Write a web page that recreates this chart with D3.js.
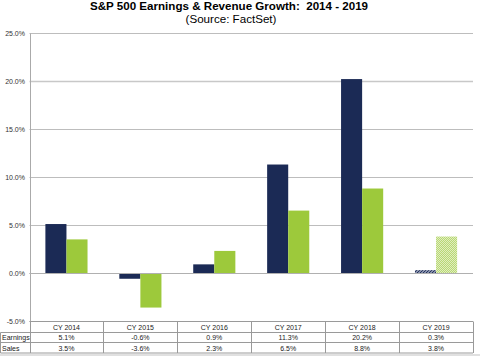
<!DOCTYPE html>
<html><head><meta charset="utf-8">
<script src="https://cdn.jsdelivr.net/npm/d3@7"></script>
<style>body{margin:0;background:#fff}svg{display:block}text{font-family:Arial,"Liberation Sans",sans-serif}</style>
</head><body>
<script>
const categories = ["CY 2014","CY 2015","CY 2016","CY 2017","CY 2018","CY 2019"];
const series = ["Earnings","Sales"];
const earnings = [5.1,-0.6,0.9,11.3,20.2,0.3];
const sales = [3.5,-3.6,2.3,6.5,8.8,3.8];
const yTicks = [-5,0,5,10,15,20,25];
const W=480,H=356;
const svg=d3.select("body").append("svg").attr("width",W).attr("height",H);
const defs=svg.append("defs");
const p1=defs.append("pattern").attr("id","hatchE").attr("patternUnits","userSpaceOnUse").attr("width",3).attr("height",3);
p1.append("rect").attr("width",3).attr("height",3).attr("fill","#8a93ad");
p1.append("path").attr("d","M0,3L3,0").attr("stroke","#1b2a55").attr("stroke-width",1);
const p2=defs.append("pattern").attr("id","hatchS").attr("patternUnits","userSpaceOnUse").attr("width",2).attr("height",2);
p2.append("rect").attr("width",2).attr("height",2).attr("fill","#e4f0c6");
p2.append("rect").attr("width",1).attr("height",1).attr("fill","#b5d66e");
p2.append("rect").attr("x",1).attr("y",1).attr("width",1).attr("height",1).attr("fill","#b5d66e");

const x=d3.scaleBand().domain(categories).range([29.5,473]).padding(0);
const x1=d3.scaleBand().domain(series).range([x.bandwidth()*0.215,x.bandwidth()*0.785]).padding(0);
const y=d3.scaleLinear().domain([-5,25]).range([321,33]);

// gridlines
svg.append("g").selectAll("line").data(yTicks).join("line")
  .attr("x1",29.5).attr("x2",473).attr("y1",d=>Math.round(y(d))+0.5).attr("y2",d=>Math.round(y(d))+0.5)
  .attr("stroke",d=>d===20?"#c8c8c8":"#bdbdbd").attr("stroke-width",d=>d===20?1.5:1);
// y axis
const ya=svg.append("g").attr("transform","translate(30,0)").call(d3.axisLeft(y).tickValues(yTicks).tickSize(0).tickPadding(5).tickFormat(d=>d.toFixed(1)+"%"));
ya.select(".domain").attr("stroke","#aaa");
ya.selectAll("text").attr("font-size",7).attr("fill","#333").attr("font-family","Arial,'Liberation Sans',sans-serif");

// bars
const data=categories.map((c,i)=>({c,i,vals:[{s:"Earnings",v:earnings[i]},{s:"Sales",v:sales[i]}]}));
const g=svg.append("g").selectAll("g").data(data).join("g").attr("transform",d=>`translate(${x(d.c)},0)`);
g.selectAll("rect").data(d=>d.vals.map(v=>({...v,last:d.i===categories.length-1}))).join("rect")
  .attr("x",d=>x1(d.s)).attr("width",x1.bandwidth())
  .attr("y",d=>y(Math.max(0,d.v))).attr("height",d=>Math.abs(y(d.v)-y(0)))
  .attr("fill",d=>d.last?(d.s==="Earnings"?"url(#hatchE)":"url(#hatchS)"):(d.s==="Earnings"?"#1b2a55":"#9dc93b"));
// zero line
svg.append("line").attr("x1",29.5).attr("x2",473).attr("y1",Math.round(y(0))+0.5).attr("y2",Math.round(y(0))+0.5).attr("stroke","#b0b0b0");

// table
const rowY=[321.5,332.5,342.5,353];
const tb=svg.append("g");
const lineC="#9a9a9a";
tb.append("line").attr("x1",29.5).attr("x2",473).attr("y1",rowY[0]).attr("y2",rowY[0]).attr("stroke",lineC);
[1,2,3].forEach(k=>tb.append("line").attr("x1",0.5).attr("x2",473).attr("y1",rowY[k]).attr("y2",rowY[k]).attr("stroke",lineC));
const vx=categories.map(c=>x(c)).concat([x.range()[1]]);
tb.selectAll("line.v").data(vx).join("line").attr("class","v").attr("x1",d=>Math.round(d)+0.5).attr("x2",d=>Math.round(d)+0.5).attr("y1",rowY[0]).attr("y2",rowY[3]).attr("stroke",lineC);
tb.append("line").attr("x1",0.5).attr("x2",0.5).attr("y1",rowY[1]).attr("y2",rowY[3]).attr("stroke",lineC);
const fs=7;
tb.selectAll("text.h").data(categories).join("text").attr("class","h").attr("x",d=>x(d)+x.bandwidth()/2).attr("y",330).attr("text-anchor","middle").attr("font-size",fs).attr("fill","#222").text(d=>d);
const rows=[{name:"Earnings",vals:earnings,y:340},{name:"Sales",vals:sales,y:350.5}];
rows.forEach(r=>{
  tb.append("text").attr("x",2).attr("y",r.y).attr("font-size",fs).attr("fill","#222").text(r.name);
  tb.selectAll(null).data(r.vals).join("text").attr("x",(d,i)=>x(categories[i])+x.bandwidth()/2).attr("y",r.y).attr("text-anchor","middle").attr("font-size",fs).attr("fill","#222").text(d=>d.toFixed(1)+"%");
});
svg.append("rect").attr("x",0).attr("y",354).attr("width",W).attr("height",2).attr("fill","#e0e0e0");

// titles
svg.append("text").attr("x",229).attr("y",9.5).attr("text-anchor","middle").attr("font-size",11.6).attr("font-weight","bold").attr("fill","#000").style("white-space","pre").text("S&P 500 Earnings & Revenue Growth:  2014 - 2019");
svg.append("text").attr("x",231).attr("y",23).attr("text-anchor","middle").attr("font-size",11.6).attr("fill","#000").text("(Source: FactSet)");
</script>
</body></html>
